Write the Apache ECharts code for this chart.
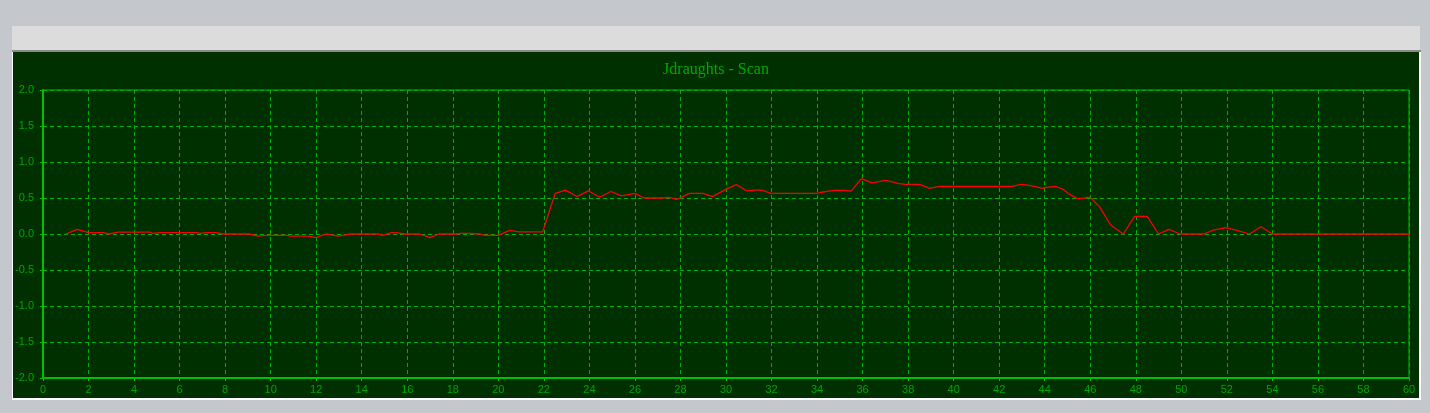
<!DOCTYPE html>
<html>
<head>
<meta charset="utf-8">
<script src="https://cdn.jsdelivr.net/npm/echarts@6/dist/echarts.min.js"></script>
<style>
  html, body { margin: 0; padding: 0; width: 1430px; height: 413px; overflow: hidden;
    background: #c4c8cc; }
  #frame { position: absolute; left: 12px; top: 26px; width: 1408px; height: 374px;
    background: #dcdcdc; }
  #edge { position: absolute; left: 12px; top: 50px; width: 1409px; height: 350px;
    background: #ffffff; border-top: 2px solid #8a8a8a; box-sizing: border-box; }
  #chart { position: absolute; left: 13px; top: 52px; width: 1406px; height: 346px;
    background: #002f00; }
</style>
</head>
<body>
<div id="frame"></div>
<div id="edge"></div>
<div id="chart"></div>
<script>
// Chart title
const titleText = 'Jdraughts - Scan';

// Axis ticks
const xTicks = { min: 0, max: 60, interval: 2 };
const yTicks = { min: -2, max: 2, interval: 0.5 };

// Series: move number (x) and evaluation (y)
const moveX = [1, 1.5, 2.0, 2.65, 2.9, 3.3, 4.7, 4.8, 5.2, 6.75, 6.9, 7.2, 7.6, 7.9, 9.05, 9.45, 9.75, 10.76, 10.85, 11.64,
  12.0, 12.45, 12.6, 12.95, 13.35, 13.5, 14.7, 14.95, 15.3, 15.5, 15.9, 16.55, 17.0, 17.4, 18.2, 18.3, 18.75, 19.2, 19.4, 20.0,
  20.5, 20.9, 21.95, 22.5, 22.95, 23.45, 23.95, 24.45, 24.95, 25.4, 26.0, 26.4, 27.2, 27.5, 27.85, 28.4, 29.0, 29.4, 30.0, 30.45,
  30.9, 31.3, 31.6, 31.95, 34.0, 34.2, 34.5, 34.8, 35.2, 35.5, 35.95, 36.4, 36.6, 37.0, 37.3, 37.6, 37.9, 38.5, 38.95, 39.2,
  39.4, 42.6, 42.75, 43.0, 43.3, 43.55, 43.9, 44.15, 44.5, 44.8, 45.1, 45.4, 45.7, 45.85, 46.0, 46.4, 46.9, 47.2, 47.45, 47.95,
  48.5, 49.0, 49.45, 49.95, 51.0, 51.4, 51.95, 52.4, 53.0, 53.5, 54.0, 60];
const evalY = [0, 0.065, 0.02, 0.02, 0, 0.025, 0.025, 0.01, 0.02, 0.02, 0.01, 0.02, 0.02, 0, 0, -0.03, -0.02, -0.02, -0.03, -0.03,
  -0.05, 0, -0.01, -0.03, -0.01, 0, 0, -0.02, 0.02, 0.02, 0, 0, -0.05, 0, 0, 0.01, 0.01, 0, -0.02, -0.02,
  0.05, 0.03, 0.03, 0.565, 0.61, 0.52, 0.6, 0.51, 0.59, 0.53, 0.565, 0.5, 0.5, 0.51, 0.48, 0.565, 0.565, 0.52, 0.62, 0.685,
  0.6, 0.61, 0.61, 0.565, 0.565, 0.58, 0.595, 0.607, 0.607, 0.595, 0.77, 0.71, 0.72, 0.745, 0.725, 0.70, 0.69, 0.69, 0.635, 0.65,
  0.66, 0.66, 0.675, 0.69, 0.675, 0.66, 0.635, 0.65, 0.66, 0.62, 0.55, 0.495, 0.495, 0.51, 0.51, 0.38, 0.125, 0.055, 0, 0.245,
  0.245, 0, 0.065, 0, 0, 0.055, 0.09, 0.055, 0, 0.1, 0, 0];

const seriesData = moveX.map((x, i) => [x, evalY[i]]);

const green = '#00c000';
const labelGreen = '#00a400';
const chart = echarts.init(document.getElementById('chart'), null, { renderer: 'canvas' });
chart.setOption({
  backgroundColor: '#002f00',
  animation: false,
  title: {
    text: titleText, left: 'center', top: 5,
    textStyle: { fontFamily: '"Liberation Serif", "Times New Roman", serif', fontSize: 16,
      fontWeight: 'normal', color: '#00a800' }
  },
  grid: { left: 30, right: 10, top: 38, bottom: 20, show: true, borderColor: green, borderWidth: 1,
    backgroundColor: 'transparent', containLabel: false, outerBoundsMode: 'none' },
  xAxis: {
    type: 'value', min: xTicks.min, max: xTicks.max, interval: xTicks.interval,
    axisLine: { show: true, onZero: false, lineStyle: { color: green, width: 2 } },
    axisTick: { show: true, length: 3, lineStyle: { color: green } },
    axisLabel: { color: labelGreen, fontFamily: '"Liberation Sans", Arial, sans-serif', fontSize: 11, margin: 6 },
    splitLine: { show: true, lineStyle: { color: '#00b000', type: [4, 3], width: 1 } }
  },
  yAxis: {
    type: 'value', min: yTicks.min, max: yTicks.max, interval: yTicks.interval,
    axisLine: { show: true, onZero: false, lineStyle: { color: green, width: 2 } },
    axisTick: { show: true, length: 3, lineStyle: { color: green } },
    axisLabel: { color: labelGreen, fontFamily: '"Liberation Sans", Arial, sans-serif', fontSize: 11, margin: 9,
      formatter: v => v.toFixed(1) },
    splitLine: { show: true, lineStyle: { color: '#00b000', type: [4, 3], width: 1 } }
  },
  series: [{
    type: 'line', data: seriesData, showSymbol: false, symbol: 'none',
    lineStyle: { color: '#ff0000', width: 1.3 }, z: 5
  }]
});
</script>
</body>
</html>
